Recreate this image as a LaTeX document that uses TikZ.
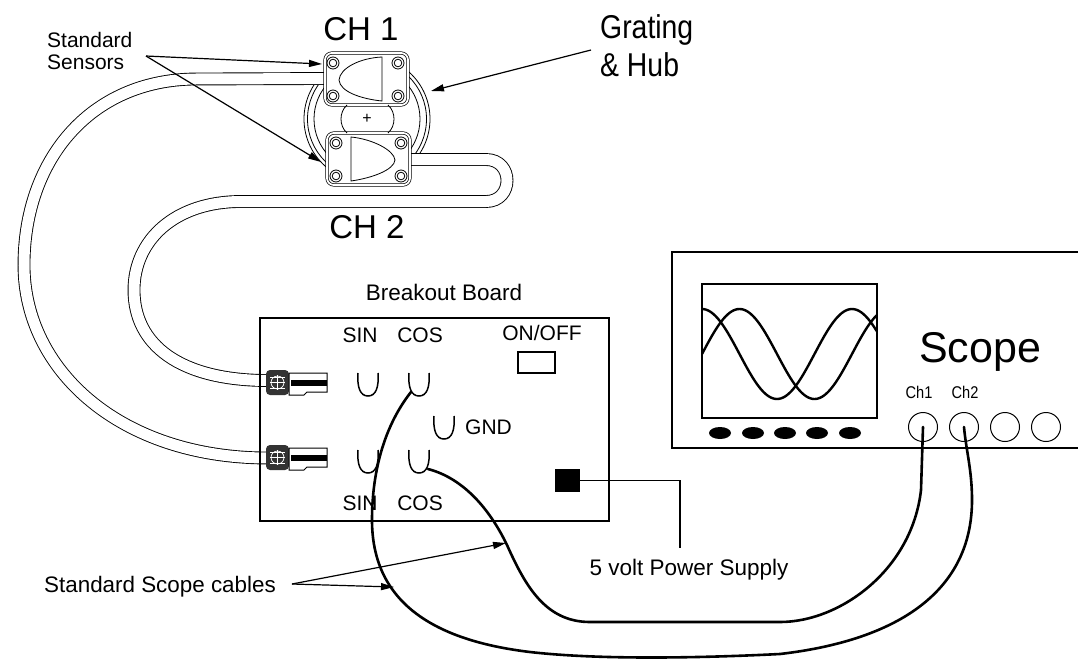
\documentclass[tikz,border=0pt]{standalone}
\usepackage{fontspec}
\setmainfont{Liberation Sans}
\newfontfamily\narrowsans[FakeStretch=0.86]{Liberation Sans}
\usetikzlibrary{arrows.meta}
\begin{document}
\begin{tikzpicture}[x=1pt,y=-1pt,
  txt/.style={inner sep=0pt, anchor=base, font=\fontsize{21}{21}\selectfont},
  cable/.style={draw=black, line width=0.9pt, double=white, double distance=11pt},
  hubblock/.style={draw, fill=white, rounded corners=7pt, line width=0.7pt,
    double=white, double distance=1.8pt, minimum width=83pt, minimum height=52pt, inner sep=0pt},
  ring/.style={draw, line width=0.8pt},
  probe/.style={line width=2.6pt, line cap=round},
  pointer/.style={line width=1.2pt, -{Triangle[length=13pt,width=7pt]}},
  socket/.pic={\draw[line width=1.5pt] (-10,0) .. controls (-11,14) and (-8,23) .. (0,23)
      .. controls (8,23) and (11,14) .. (10,0);},
  plug/.pic={
    \fill[black!80, rounded corners=4pt] (2,-12) rectangle (25,13);
    \draw[white, line width=0.7pt] (13.5,0.5) circle[radius=6.5];
    \draw[white, line width=0.9pt] (6,0.5) -- (21,0.5) (13.5,-7) -- (13.5,8);
    \draw[white, line width=0.6pt] (6,-5) -- (21,-5) (6,6) -- (21,6);
    \draw[fill=white, line width=1pt] (25,-9) -- (63,-9) -- (63,10) -- (43,10) -- (40,13) -- (25,13) -- cycle;
    \fill (27,-2) rectangle (63,4);},
]
\useasboundingbox (0,0) rectangle (1078,659);
\clip (0,0) rectangle (1078,659);

% ---------- grating rings around the hub ----------
\coordinate (hc) at (367,119);
\foreach \r in {63,59.5,53} \draw[ring] (hc) circle[radius=\r];

% ---------- sensor cables ----------
\coordinate (s1) at (330,78.5);
\coordinate (s2) at (405,159.5);
\coordinate (p1) at (268,458);
\coordinate (p2) at (268,380.5);
\draw[cable] (s1) -- (195,79) .. controls (90,80) and (24,160) .. (24,265)
   .. controls (24,370) and (120,458) .. (p1);
\draw[cable] (s2) -- (486,159.5) .. controls (514,159.5) and (514,201.5) .. (486,201.5)
   -- (241,201.5) .. controls (175,201.5) and (134,240) .. (134,290)
   .. controls (134,345) and (180,380.5) .. (p2);

% ---------- sensor blocks ----------
\node[hubblock, name=blk1] at (366.5,79) {};
\node[hubblock, name=blk2] at (368.5,159) {};
\foreach \p in {(333,63),(398,63),(333,96),(398,96),(336,143),(401,143),(336,176),(401,176)}
  \draw[line width=0.8pt] \p circle[radius=6] \p circle[radius=3.8];
\draw[line width=0.8pt] (382,57) -- (382,101) .. controls (362,99) and (340,92) .. (339,80)
   .. controls (340,68) and (360,58) .. cycle;
\draw[line width=0.8pt] (351,137) -- (351,181) .. controls (372,178) and (394,170) .. (395,160)
   .. controls (394,150) and (372,139) .. cycle;
% hub between the blocks
\draw[line width=0.8pt] (347,105) .. controls (339,112) and (339,126) .. (347,133);
\draw[line width=0.8pt] (388,105) .. controls (396,112) and (396,126) .. (388,133);
\node[name=plus, inner sep=0pt, font=\fontsize{16}{16}\selectfont] at (hc) {+};

% ---------- breakout board ----------
\node[name=board, draw, line width=2pt, minimum width=349pt, minimum height=203pt, inner sep=0pt] at (434.5,419.5) {};
\node[txt, name=bbl, font=\fontsize{22.5}{22.5}\selectfont] at (444,300) {Breakout Board};
\node[txt, name=sin1] at (360,342.5) {SIN};
\node[txt, name=cos1] at (420,342.5) {COS};
\node[txt, name=onoff] at (542,340.5) {ON/OFF};
\node[name=sw, draw, line width=1.6pt, minimum width=37pt, minimum height=21pt, inner sep=0pt] at (536.5,362.5) {};
\node[txt, name=gnd, anchor=base west] at (465,434.5) {GND};
\node[txt, name=sin2] at (360,510.5) {SIN};
\node[txt, name=cos2] at (420,510.5) {COS};
\pic at (368,373) {socket};
\pic at (419,373) {socket};
\pic at (444,416) {socket};
\pic at (368,450) {socket};
\pic at (419,450) {socket};
\coordinate (cosA) at (411,392);
\coordinate (cosB) at (428,469);
\node[name=pwr, fill=black, minimum width=25pt, minimum height=23pt, inner sep=0pt] at (567.5,480.5) {};
\node[txt, name=psu, font=\fontsize{22.5}{22.5}\selectfont] at (689,575) {5 volt Power Supply};
\coordinate (pwrend) at (680,548);
\draw[line width=1.3pt] (pwr.east) -| (pwrend);

% connectors on the board edge
\pic at (264,382) {plug};
\pic at (264,457) {plug};

% ---------- oscilloscope ----------
\draw[line width=2.5pt] (1095,252) -- (672,252) -- (672,448) -- (1095,448);
\node[name=screen, draw, line width=2.5pt, minimum width=175pt, minimum height=134pt, inner sep=0pt] at (789.5,351) {};
\begin{scope}
  \clip (702,284) rectangle (877,418);
  \draw[line width=2.4pt, domain=702:877, samples=90, smooth] plot (\x, {354-45*cos(2.4*(\x-852))});
  \draw[line width=2.4pt, domain=702:877, samples=90, smooth] plot (\x, {354-45*cos(2.4*(\x-739.5))});
\end{scope}
\foreach \bx in {720,753,785,817,850} \fill (\bx,433) ellipse[x radius=11, y radius=6];
\foreach \jx/\nm in {923/jch1, 964/jch2, 1005/jch3, 1046/jch4}
  \node[name=\nm, circle, draw, line width=1pt, minimum size=29pt, inner sep=0pt] at (\jx,427) {};
\node[inner sep=0pt, anchor=base, font=\fontsize{43}{43}\selectfont, name=scopelbl] at (980,362) {Scope};
\node[inner sep=0pt, anchor=base, font=\narrowsans\fontsize{17}{17}\selectfont, name=lch1] at (919,398.5) {Ch1};
\node[inner sep=0pt, anchor=base, font=\narrowsans\fontsize{17}{17}\selectfont, name=lch2] at (965,398.5) {Ch2};

% ---------- scope probe cables ----------
\draw[probe] (cosA) .. controls (385,425) and (372,470) .. (372,520)
   .. controls (372,600) and (430,640) .. (530,652)
   .. controls (600,660) and (700,658) .. (780,654)
   .. controls (900,640) and (972,590) .. (972,500)
   .. controls (972,470) and (966,450) .. (jch2.center);
\draw[probe] (cosB) .. controls (470,480) and (495,520) .. (507,545)
   .. controls (525,585) and (545,622) .. (590,622) -- (780,622)
   .. controls (840,622) and (912,570) .. (921,490) -- (jch1.center);

% ---------- labels and pointers ----------
\node[txt, name=ch1lbl, font=\fontsize{33}{33}\selectfont] at (361,40) {CH 1};
\node[txt, name=ch2lbl, font=\fontsize{33}{33}\selectfont] at (367,238) {CH 2};
\node[txt, name=sens1, anchor=base west] at (47,47) {Standard};
\node[txt, name=sens2, anchor=base west] at (47,69) {Sensors};
\node[inner sep=0pt, anchor=base west, font=\narrowsans\fontsize{33}{33}\selectfont, name=grat1] at (600,38) {Grating};
\node[inner sep=0pt, anchor=base west, font=\narrowsans\fontsize{33}{33}\selectfont, name=grat2] at (600,76) {\& Hub};
\node[txt, name=scc, anchor=base west, font=\fontsize{22.4}{22.4}\selectfont] at (44,592) {Standard Scope cables};

\coordinate (sensfrom) at (146,56);
\coordinate (tipA) at (322,64);
\coordinate (tipB) at (321,162);
\draw[pointer] (sensfrom) -- (tipA);
\draw[pointer] (sensfrom) -- (tipB);
\coordinate (gratfrom) at (591,50);
\coordinate (tipG) at (431,91);
\draw[pointer] (gratfrom) -- (tipG);
\coordinate (sccfrom) at (292,584);
\coordinate (tipC) at (506,543);
\coordinate (tipD) at (394,587);
\draw[pointer] (sccfrom) -- (tipC);
\draw[pointer] (sccfrom) -- (tipD);
\end{tikzpicture}
\end{document}
